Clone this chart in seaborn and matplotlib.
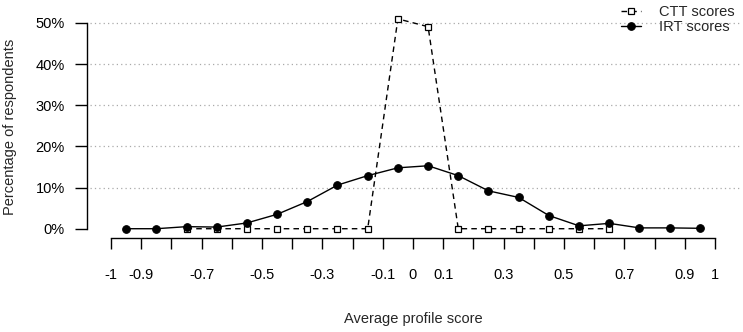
import numpy as np
import pandas as pd
import matplotlib
matplotlib.use("Agg")
import matplotlib.pyplot as plt
import seaborn as sns

# bin midpoints of the average profile score
irt_x = [-0.95, -0.85, -0.75, -0.65, -0.55, -0.45, -0.35, -0.25, -0.15, -0.05,
         0.05, 0.15, 0.25, 0.35, 0.45, 0.55, 0.65, 0.75, 0.85, 0.95]
irt_pct = [0.0, 0.0, 0.5, 0.4, 1.4, 3.5, 6.6, 10.6, 12.9, 14.8,
           15.3, 12.9, 9.2, 7.6, 3.2, 0.7, 1.3, 0.2, 0.2, 0.1]

ctt_x = [-0.75, -0.65, -0.55, -0.45, -0.35, -0.25, -0.15, -0.05,
         0.05, 0.15, 0.25, 0.35, 0.45, 0.55, 0.65]
ctt_pct = [0.0, 0.0, 0.0, 0.0, 0.0, 0.0, 0.0, 51.0,
           49.1, 0.0, 0.0, 0.0, 0.0, 0.0, 0.0]

x_ticks = [round(-1 + 0.1 * i, 1) for i in range(21)]
x_labelled = ["-1", "-0.9", "-0.7", "-0.5", "-0.3", "-0.1", "0", "0.1",
              "0.3", "0.5", "0.7", "0.9", "1"]
y_ticks = [0, 10, 20, 30, 40, 50]

sns.set_style("white")
plt.rcParams["font.family"] = ["Liberation Sans", "DejaVu Sans"]
plt.rcParams["font.size"] = 10.5

fig = plt.figure(figsize=(7.43, 3.32), dpi=100)
ax = fig.add_axes([0.1171, 0.2831, 0.9960 - 0.1171, 0.9548 - 0.2831])

# dotted reference lines
ax.hlines(y_ticks[1:], -1.07, 1.083, colors="#aaaaaa", linestyles=(0, (1, 2.5)),
          linewidth=0.9, zorder=0)

sns.lineplot(x=ctt_x, y=ctt_pct, ax=ax, color="black", linewidth=1,
             linestyle=(0, (4, 3)), marker="s", markersize=4.5,
             markerfacecolor="white", markeredgecolor="black", markeredgewidth=0.9,
             label="CTT scores")
sns.lineplot(x=irt_x, y=irt_pct, ax=ax, color="black", linewidth=1,
             marker="o", markersize=5.5, markerfacecolor="black",
             markeredgecolor="black", label="IRT scores")

ax.set_xlim(-1.0795, 1.083)
ax.set_ylim(-2.26, 51.94)

for side in ["top", "right"]:
    ax.spines[side].set_visible(False)
ax.spines["left"].set_bounds(0, 50)
ax.spines["bottom"].set_bounds(-1, 1)
ax.spines["left"].set_linewidth(1)
ax.spines["bottom"].set_linewidth(1)
ax.spines["left"].set_color("black")
ax.spines["bottom"].set_color("black")

ax.set_xticks(x_ticks)
ax.set_xticklabels([lab if lab in x_labelled else "" for lab in
                    [("%g" % t) for t in x_ticks]])
ax.set_yticks(y_ticks)
ax.set_yticklabels([f"{v}%" for v in y_ticks])
ax.tick_params(axis="x", direction="out", length=8, width=1, pad=13.5,
               colors="black", bottom=True)
ax.tick_params(axis="y", direction="out", length=8.6, width=1, pad=7.5,
               colors="black", left=True)

ax.set_xlabel("Average profile score", labelpad=22)
ax.set_ylabel("Percentage of respondents", labelpad=13)

ax.legend(loc="upper right", bbox_to_anchor=(1.0, 1.07), frameon=False,
          handlelength=1.4, handletextpad=1.2, labelspacing=0.05,
          borderaxespad=0.0, fontsize=10.5)

fig.savefig("out.png", dpi=100)
